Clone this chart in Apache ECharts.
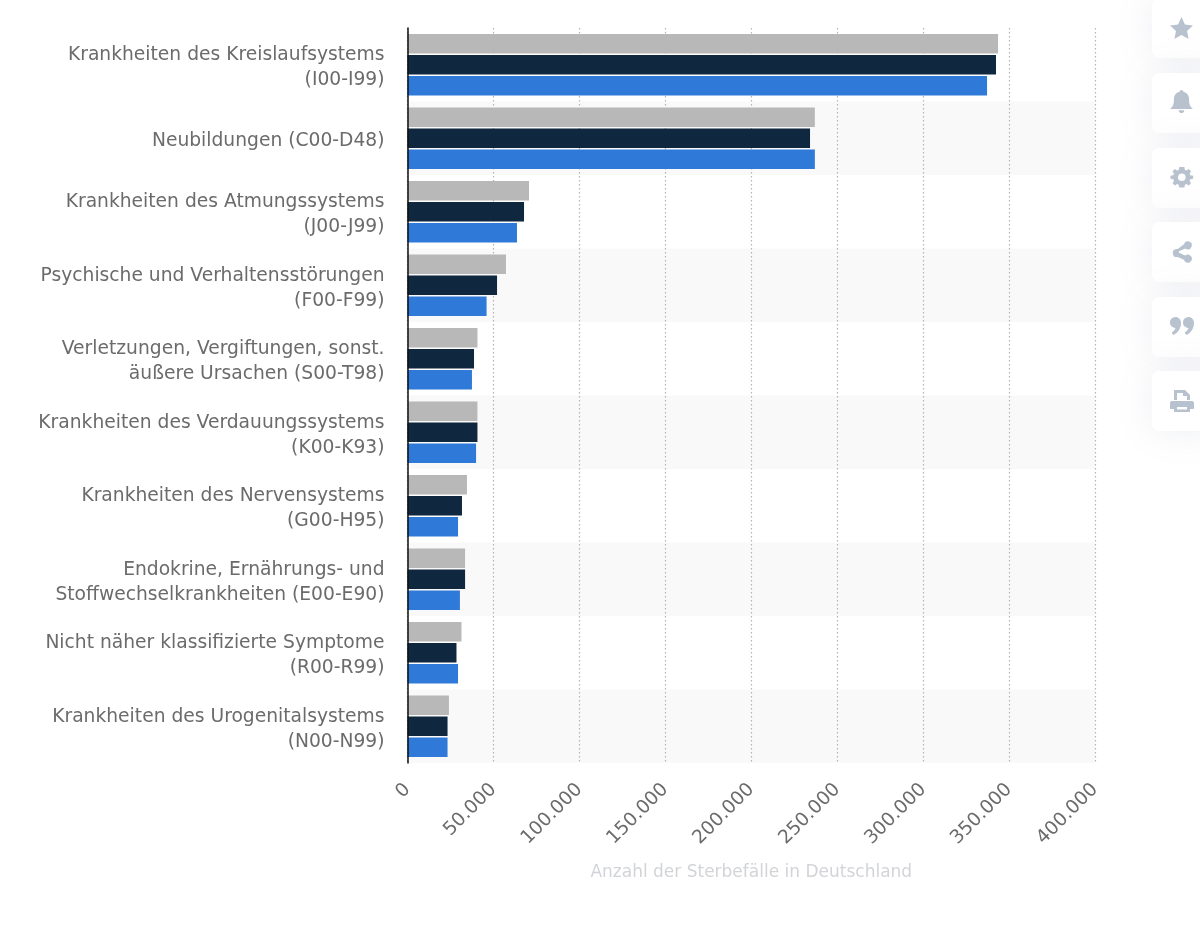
<!DOCTYPE html>
<html><head><meta charset="utf-8">
<style>html,body{margin:0;padding:0;background:#fff}#c{width:1200px;height:930px}</style>
<script src="https://cdn.jsdelivr.net/npm/echarts@6/dist/echarts.min.js"></script></head>
<body><div id="c"></div>
<script>
const categories = [
 "Krankheiten des Kreislaufsystems\n(I00-I99)",
 "Neubildungen (C00-D48)",
 "Krankheiten des Atmungssystems\n(J00-J99)",
 "Psychische und Verhaltensstörungen\n(F00-F99)",
 "Verletzungen, Vergiftungen, sonst.\näußere Ursachen (S00-T98)",
 "Krankheiten des Verdauungssystems\n(K00-K93)",
 "Krankheiten des Nervensystems\n(G00-H95)",
 "Endokrine, Ernährungs- und\nStoffwechselkrankheiten (E00-E90)",
 "Nicht näher klassifizierte Symptome\n(R00-R99)",
 "Krankheiten des Urogenitalsystems\n(N00-N99)"
];
const seriesGrey = [343600,237000,70700,57300,40700,40700,34600,33500,31400,24100];
const seriesNavy = [342400,234200,67800,52100,38700,40700,31700,33500,28500,23300];
const seriesBlue = [337200,237000,63700,46000,37500,39900,29400,30500,29400,23300];
const axisName = "Anzahl der Sterbefälle in Deutschland";
const FONT = '"DejaVu Sans"';

const cards = [-2,73,148,222,297,371];
const icons = [
 "M10 0l3 6.6 7 .8-5.2 4.8 1.4 7L10 15.7l-6.2 3.500 1.400-7L0 7.400l7-.8z",
 "M10 0c1 0 1.600.7 1.600 1.600 3.400.7 5 3.300 5 7 0 4 1 5.500 3.400 8H0c2.400-2.500 3.400-4 3.400-8 0-3.700 1.600-6.300 5-7C8.400.7 9 0 10 0zM7.600 17.500h4.800c0 1.400-1 2.500-2.400 2.500s-2.400-1.100-2.400-2.500z",
 "M7.500 0h5l.5 2.800 1.500.6L16.800 2l2.200 2.200-1.400 2.300.6 1.500 2.800.5v3l-2.800.5-.6 1.500 1.400 2.300-2.200 2.200-2.300-1.400-1.500.6-.5 2.800h-5l-.5-2.800-1.500-.6L3.200 18 1 15.800l1.400-2.300-.6-1.500L-1 11.500v-3L1.800 8l.6-1.500L1 4.200 3.200 2l2.300 1.400 1.500-.6zM10 6.300a3.700 3.700 0 1 0 0 7.400 3.700 3.700 0 0 0 0-7.400z",
 "M13 3.200a4 4 0 1 1 1.200 4.200L8 10.200v1.600l6.200 2.800a4 4 0 1 1-1.200 4.200l-6.300-2.900a4 4 0 1 1 0-7.800z",
 "M5.500 0C8.500 0 11 2.500 11 5.500c0 6-3 10.500-7.800 12.500L1.700 15.500c2-1 3.400-2.800 3.700-4.500A5.500 5.500 0 0 1 5.500 0zM18.500 0c3 0 5.500 2.500 5.500 5.500 0 6-3 10.500-7.800 12.500l-1.500-2.500c2-1 3.400-2.800 3.700-4.500a5.500 5.500 0 0 1 .1-11z",
 "M4 0h11l5 5v5h-3V6h-4V3H7v7H4zM2 11h20c1.100 0 2 .9 2 2v5c0 .6-.4 1-1 1h-3v3H4v-3H1c-.6 0-1-.4-1-1v-5c0-1.100.9-2 2-2zM7 17v2.500h10V17z"
];
const iconPlaces = [[1170,17,1.15],[1170,90,1.15],[1171.500,167,1.03],[1171,241,1],[1170,317,1],[1170,390,1]];
const graphicItems = [];
cards.forEach(y=>{
  graphicItems.push({type:'rect',silent:true,z:10,shape:{x:1152,y:y,width:70,height:60,r:7},
    style:{fill:'#fff',shadowBlur:36,shadowColor:'rgba(120,135,160,0.13)'}});
});
icons.forEach((d,i)=>{
  const name='sideIcon'+i;
  echarts.graphic.registerShape(name,echarts.graphic.extendPath(d,{}));
  const p=iconPlaces[i];
  graphicItems.push({type:name,silent:true,z:11,x:p[0],y:p[1],scaleX:p[2],scaleY:p[2],style:{fill:'#b8c2cf'}});
});

const chart = echarts.init(document.getElementById('c'),null,{renderer:'canvas'});
const bar = (name,data,color)=>({name,type:'bar',data,barWidth:19.5,barGap:'8%',yAxisIndex:0,
  itemStyle:{color}});
chart.setOption({
  animation:false,
  backgroundColor:'#fff',
  graphic:{elements:graphicItems},
  grid:[{left:407.5,top:28,width:687.5,height:735,containLabel:false},
        {left:407.5,top:31,width:687.5,height:735,containLabel:false}],
  xAxis:[{type:'value',min:0,max:400000,interval:50000,
    name:axisName,nameLocation:'middle',nameGap:101.5,
    nameTextStyle:{color:'#d2d4d7',fontFamily:FONT,fontSize:17},
    axisLine:{show:false},axisTick:{show:false},
    axisLabel:{rotate:45,margin:23.5,color:'#6b6b6b',fontFamily:FONT,fontSize:18.8,
      formatter:v=>String(v).replace(/\B(?=(\d{3})+$)/g,'.')},
    splitLine:{show:true,lineStyle:{type:[1.5,2.5],color:'#b4b4b4',width:1.2}}},
   {type:'value',gridIndex:1,min:0,max:400000,show:false}],
  yAxis:[{type:'category',inverse:true,data:categories,
    axisLine:{show:false},axisTick:{show:false},axisLabel:{show:false},
    splitArea:{show:true,areaStyle:{color:['#ffffff','#f9f9f9']}},
    splitLine:{show:false}},
   {type:'category',inverse:true,data:categories,position:'left',z:5,
    axisLine:{show:true,onZero:false,lineStyle:{color:'#111',width:1.5}},axisTick:{show:false},
    axisLabel:{show:false},splitArea:{show:false},splitLine:{show:false}},
   {type:'category',gridIndex:1,inverse:true,data:categories,position:'left',
    axisLine:{show:false},axisTick:{show:false},splitArea:{show:false},splitLine:{show:false},
    axisLabel:{margin:23,color:'#6b6b6b',fontFamily:FONT,fontSize:18.7,lineHeight:25,align:'right'}}],
  series:[bar('Grau',seriesGrey,'#b8b8b8'),bar('Dunkel',seriesNavy,'#0f2840'),bar('Blau',seriesBlue,'#2f7ad9')]
});
</script></body></html>
